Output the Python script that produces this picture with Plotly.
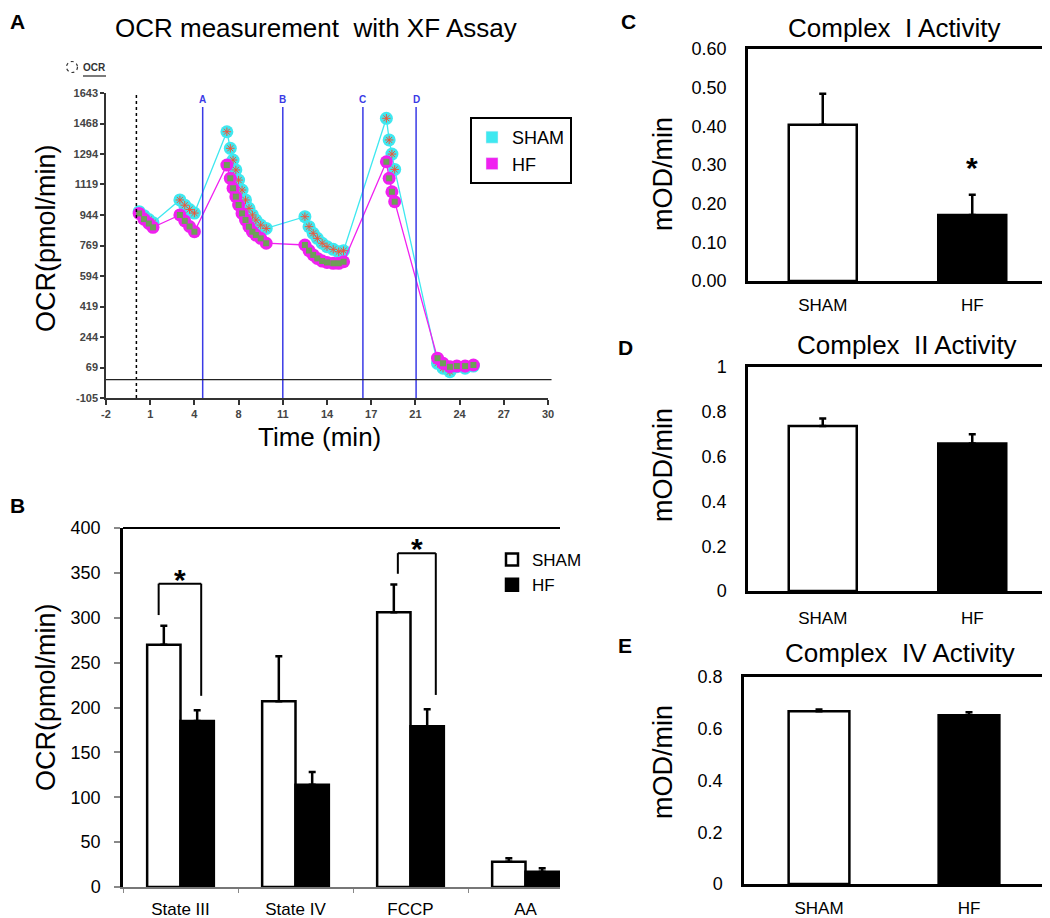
import plotly.graph_objects as go

# ---- Panel A: OCR trace from the XF assay ----
time_min = [0.4, 0.75, 1.1, 1.4,
            3.35, 3.7, 4.05, 4.4,
            6.75, 7.0, 7.2, 7.4, 7.6, 7.85, 8.1, 8.35, 8.6, 8.85, 9.2, 9.6,
            12.4, 12.7, 13.0, 13.3, 13.65, 14.0, 14.45, 14.85, 15.2,
            18.3, 18.5, 18.7, 18.9,
            22.0, 22.4, 22.9, 23.4, 24.0, 24.6]
sham_ocr = [963, 940, 918, 900,
            1030, 1000, 975, 955,
            1421, 1326, 1259, 1202, 1144, 1087, 1030, 982, 944, 915, 886, 867,
            934, 877, 839, 810, 782, 762, 747, 733, 739,
            1498, 1374, 1293, 1205,
            94, 66, 46, 74, 66, 78]
hf_ocr = [953, 920, 895, 873,
          944, 910, 878, 848,
          1230, 1154, 1097, 1049, 1001, 953, 915, 877, 848, 829, 810, 782,
          772, 740, 715, 695, 680, 672, 667, 667, 676,
          1249, 1154, 1077, 1020,
          123, 94, 74, 78, 78, 84]
inj_times = [5.0, 10.8, 16.6, 20.45]
inj_labels = ['A', 'B', 'C', 'D']
start_time = 0.2
a_xtick_text = ['-2', '1', '4', '8', '11', '14', '17', '21', '24', '27', '30']
a_ytick_vals = [-105, 69, 244, 419, 594, 769, 944, 1119, 1294, 1468, 1643]

# ---- Panel B: OCR by state ----
states = ['State III', 'State IV', 'FCCP', 'AA']
b_sham = [270, 207, 306, 28]
b_sham_err = [21, 50, 31, 4]
b_hf = [185, 114, 179, 17]
b_hf_err = [12, 14, 19, 4]
sig_idx = [0, 2]
br_left = [-0.19, -0.11]
br_right = [0.18, 0.22]
br_top = [338, 372]

# ---- Panels C, D, E: complex activities ----
groups = ['SHAM', 'HF']
c_vals = [0.404, 0.171]
c_err = [0.080, 0.052]
d_vals = [0.737, 0.658]
d_err = [0.033, 0.042]
e_vals = [0.668, 0.652]
e_err = [0.006, 0.012]

FONT = 'Arial, Liberation Sans, sans-serif'
CYAN = '#3ee8f0'
MAGENTA = '#f020f0'
BLUE = '#3a3ae6'

W, H = 1050, 918
OFF = 8  # page body margin in the browser


def px_x(p):
    return (p - OFF) / W


def px_y(p):
    return 1 - (p - OFF) / H


fig = go.Figure()

# panel A traces
fig.add_trace(go.Scatter(x=time_min, y=sham_ocr, mode='lines+markers', showlegend=False,
                         line=dict(color=CYAN, width=1.3),
                         marker=dict(symbol='circle', size=13, color=CYAN),
                         xaxis='x', yaxis='y'))
fig.add_trace(go.Scatter(x=time_min, y=sham_ocr, mode='markers', showlegend=False,
                         marker=dict(symbol='asterisk-open', size=7,
                                     line=dict(color='#d04848', width=1)),
                         xaxis='x', yaxis='y'))
fig.add_trace(go.Scatter(x=time_min, y=hf_ocr, mode='lines+markers', showlegend=False,
                         line=dict(color=MAGENTA, width=1.3),
                         marker=dict(symbol='circle', size=13, color=MAGENTA),
                         xaxis='x', yaxis='y'))
fig.add_trace(go.Scatter(x=time_min, y=hf_ocr, mode='markers', showlegend=False,
                         marker=dict(symbol='square', size=6, color='#6e9e58'),
                         xaxis='x', yaxis='y'))
# legend entries for panel A
fig.add_trace(go.Bar(x=[None], y=[None], name='SHAM', marker=dict(color=CYAN),
                     xaxis='x', yaxis='y', legend='legend'))
fig.add_trace(go.Bar(x=[None], y=[None], name='HF', marker=dict(color=MAGENTA),
                     xaxis='x', yaxis='y', legend='legend'))

# panel B bars
fig.add_trace(go.Bar(x=states, y=b_sham, name='SHAM', width=0.29, offset=-0.29,
                     marker=dict(color='white', line=dict(color='black', width=2.5)),
                     error_y=dict(type='data', array=b_sham_err, arrayminus=[0] * 4,
                                  symmetric=False, color='black', thickness=2.5, width=3.5),
                     xaxis='x2', yaxis='y2', legend='legend2'))
fig.add_trace(go.Bar(x=states, y=b_hf, name='HF', width=0.29, offset=0,
                     marker=dict(color='black', line=dict(color='black', width=2.5)),
                     error_y=dict(type='data', array=b_hf_err, arrayminus=[0] * 4,
                                  symmetric=False, color='black', thickness=2.5, width=3.5),
                     xaxis='x2', yaxis='y2', legend='legend2'))

# panels C, D, E
for vals, errs, ax, bw in [(c_vals, c_err, '3', 0.455), (d_vals, d_err, '4', 0.455),
                           (e_vals, e_err, '5', 0.405)]:
    fig.add_trace(go.Bar(x=groups, y=vals, width=bw, showlegend=False,
                         marker=dict(color=['white', 'black'], line=dict(color='black', width=2.5)),
                         error_y=dict(type='data', array=errs, arrayminus=[0, 0],
                                      symmetric=False, color='black', thickness=2.5, width=3.5),
                         xaxis='x' + ax, yaxis='y' + ax))

shapes = []
annotations = []


def note(text, x, y, size, xref='paper', yref='paper', color='black', angle=0):
    annotations.append(dict(x=x, y=y, xref=xref, yref=yref, text=text, textangle=angle,
                            showarrow=False, xanchor='center', yanchor='middle',
                            font=dict(size=size, color=color, family=FONT)))


# panel A decorations
shapes.append(dict(type='line', xref='x', yref='y domain', x0=start_time, x1=start_time,
                   y0=0, y1=1, line=dict(color='black', width=1.5, dash='dot')))
for t, lab in zip(inj_times, inj_labels):
    shapes.append(dict(type='line', xref='x', yref='y', x0=t, x1=t, y0=-105, y1=1563,
                       line=dict(color=BLUE, width=1.5)))
    note('<b>' + lab + '</b>', t, 1603, 10, xref='x', yref='y', color=BLUE)
shapes.append(dict(type='line', xref='x domain', yref='y', x0=0, x1=1.008, y0=0, y1=0,
                   line=dict(color='#222', width=1.2)))
# OCR icon
shapes.append(dict(type='circle', xref='paper', yref='paper',
                   x0=px_x(66.5), x1=px_x(77.5), y0=px_y(72.5), y1=px_y(61.5),
                   line=dict(color='#333', width=1.2, dash='dot')))
shapes.append(dict(type='line', xref='paper', yref='paper',
                   x0=px_x(83), x1=px_x(106), y0=px_y(76), y1=px_y(76),
                   line=dict(color='#222', width=1.2)))
note('<b>OCR</b>', px_x(94.5), px_y(67), 10, color='#333')

# panel B decorations
shapes.append(dict(type='line', xref='x2 domain', yref='y2 domain', x0=0, x1=1, y0=1, y1=1,
                   line=dict(color='black', width=2)))
for i, l, r, top in zip(sig_idx, br_left, br_right, br_top):
    yl = b_sham[i] + b_sham_err[i] + 12
    yr = b_hf[i] + b_hf_err[i] + 16
    for x0, y0, x1, y1 in [(i + l, yl, i + l, top), (i + l, top, i + r, top),
                           (i + r, top, i + r, yr)]:
        shapes.append(dict(type='line', xref='x2', yref='y2', x0=x0, y0=y0, x1=x1, y1=y1,
                           line=dict(color='black', width=2)))
    note('<b>*</b>', i + (l + r) / 2, top + 5, 30, xref='x2', yref='y2')

# panel C asterisk
note('<b>*</b>', 1, c_vals[1] + c_err[1] + 0.07, 30, xref='x3', yref='y3')

# panel letters
for lab, x, y in [('A', 17, 21), ('B', 17, 505), ('C', 628, 21), ('D', 625, 347), ('E', 625, 645)]:
    note('<b>' + lab + '</b>', px_x(x), px_y(y), 21)

# titles
for txt, x, y in [('OCR measurement  with XF Assay', 316, 28), ('Complex  I Activity', 894, 28),
                  ('Complex  II Activity', 907, 345), ('Complex  IV Activity', 900, 653)]:
    note(txt, px_x(x), px_y(y), 26)

# axis titles
for txt, x, y, ang in [('OCR(pmol/min)', 46, 238, -90), ('OCR(pmol/min)', 46, 697, -90),
                       ('mOD/min', 663, 174, -90), ('mOD/min', 663, 465, -90),
                       ('mOD/min', 663, 762, -90), ('Time (min)', 319, 437, 0)]:
    note(txt, px_x(x), px_y(y), 27 if ang else 26, angle=ang)

small_tick = dict(size=11, color='#444', family=FONT, weight='bold')
box_axis = dict(showline=True, linecolor='black', linewidth=2.5, mirror=True,
                showgrid=False, zeroline=False, automargin=False)

fig.update_layout(
    width=W, height=H,
    margin=dict(l=0, r=0, t=0, b=0, autoexpand=False),
    paper_bgcolor='white', plot_bgcolor='white',
    barmode='overlay',
    font=dict(family=FONT, color='black'),
    showlegend=True,
    shapes=shapes, annotations=annotations,
    legend=dict(x=px_x(470), y=px_y(117), xanchor='left', yanchor='top',
                bordercolor='black', borderwidth=2, bgcolor='white',
                font=dict(size=18, family=FONT)),
    legend2=dict(x=px_x(492), y=px_y(542), xanchor='left', yanchor='top',
                 borderwidth=0, bgcolor='rgba(0,0,0,0)',
                 font=dict(size=17, family=FONT)),
    # panel A
    xaxis=dict(domain=[px_x(106), px_x(548)], range=[-2, 30], anchor='y',
               tickvals=[-2 + 3.2 * i for i in range(11)], ticktext=a_xtick_text,
               ticks='outside', ticklen=5, tickwidth=1.5, tickcolor='#333',
               showline=True, linecolor='#333', linewidth=1.5, automargin=False,
               showgrid=False, zeroline=False, tickfont=small_tick),
    yaxis=dict(domain=[px_y(398), px_y(93)], range=[-105, 1643], anchor='x',
               tickvals=a_ytick_vals, ticktext=[str(v) for v in a_ytick_vals],
               ticks='outside', ticklen=4, tickwidth=1.5, tickcolor='#333',
               showline=True, linecolor='#333', linewidth=1.5, automargin=False,
               showgrid=False, zeroline=False, tickfont=small_tick),
    # panel B
    xaxis2=dict(domain=[px_x(123), px_x(560)], range=[-0.5, 3.3], anchor='y2',
                type='category', tickson='boundaries', ticks='outside', ticklen=4,
                tickcolor='#888', showline=True, linecolor='#777', linewidth=1.5,
                showgrid=False, zeroline=False, ticklabelstandoff=6, automargin=False,
                tickfont=dict(size=17, family=FONT)),
    yaxis2=dict(domain=[px_y(887), px_y(528)], range=[0, 400], anchor='x2', dtick=50,
                ticks='outside', ticklen=6, tickcolor='#888', tickwidth=1.5,
                showline=True, linecolor='black', linewidth=2.5, automargin=False,
                showgrid=False, zeroline=False, ticklabelstandoff=10,
                tickfont=dict(size=18, family=FONT)),
    # panel C
    xaxis3=dict(domain=[px_x(748), px_x(1047)], anchor='y3', ticks='', ticklabelstandoff=7,
                tickfont=dict(size=17, family=FONT), **box_axis),
    yaxis3=dict(domain=[px_y(281), px_y(49)], range=[0, 0.6], anchor='x3', dtick=0.1,
                tickformat='.2f', ticks='', ticklabelstandoff=15,
                tickfont=dict(size=18, family=FONT), **box_axis),
    # panel D
    xaxis4=dict(domain=[px_x(748), px_x(1047)], anchor='y4', ticks='', ticklabelstandoff=10,
                tickfont=dict(size=17, family=FONT), **box_axis),
    yaxis4=dict(domain=[px_y(591), px_y(367)], range=[0, 1], anchor='x4', dtick=0.2,
                ticks='', ticklabelstandoff=15,
                tickfont=dict(size=18, family=FONT), **box_axis),
    # panel E
    xaxis5=dict(domain=[px_x(744), px_x(1044)], anchor='y5', ticks='', ticklabelstandoff=7,
                tickfont=dict(size=17, family=FONT), **box_axis),
    yaxis5=dict(domain=[px_y(884), px_y(677)], range=[0, 0.8], anchor='x5', dtick=0.2,
                ticks='', ticklabelstandoff=15,
                tickfont=dict(size=18, family=FONT), **box_axis),
)

fig.write_html("out.html")
